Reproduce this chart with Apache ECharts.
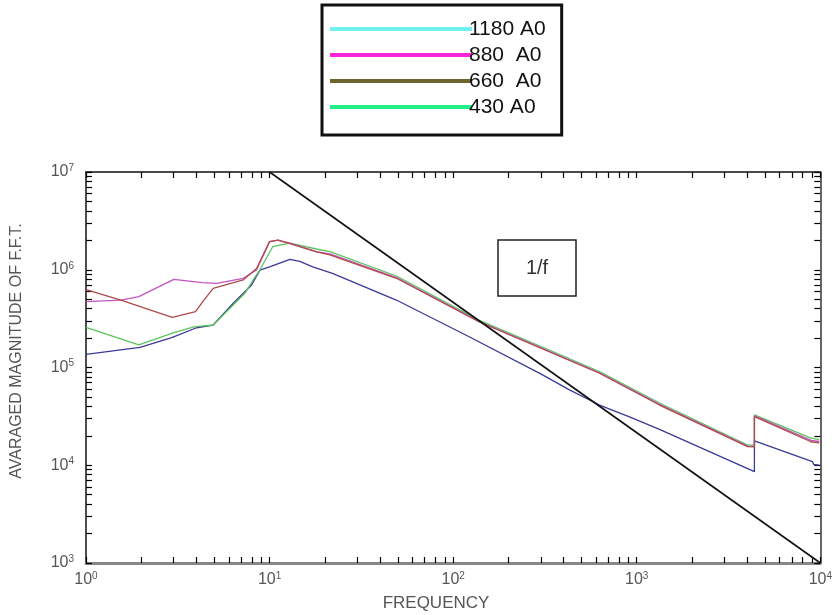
<!DOCTYPE html>
<html>
<head>
<meta charset="utf-8">
<script src="https://cdn.jsdelivr.net/npm/echarts@6/dist/echarts.min.js"></script>
<style>
html,body{margin:0;padding:0;background:#fff;}
#chart{width:835px;height:615px;}
</style>
</head>
<body>
<div id="chart"></div>
<script>
// ---- data ----
const seriesNames = ['1180 A0', '880  A0', '660  A0', '430 A0'];

const blueFreq = [1, 1.97, 2.93, 4.0, 4.93, 6.34, 7.98, 8.85, 10, 12.9, 14.6, 17.2, 22, 49, 120, 300, 430, 627, 913, 1330, 4375, 4376, 9060, 9200, 9880];
const blueMag  = [1.36e5, 1.61e5, 2.02e5, 2.55e5, 2.72e5, 4.54e5, 6.98e5, 9.9e5, 1.07e6, 1.28e6, 1.22e6, 1.07e6, 9.2e5, 4.9e5, 2.1e5, 8.6e4, 5.9e4, 4.13e4, 3.12e4, 2.33e4, 8.6e3, 1.78e4, 1.09e4, 1.02e4, 1.0e4];

const magentaFreq = [1, 1.55, 1.94, 3.01, 4.29, 5.14, 7.18, 8.49, 10, 11.1, 12.9, 18, 21.3, 49.1, 139, 627, 1330, 4020, 4375, 4376, 8900, 9880];
const magentaMag  = [4.71e5, 4.9e5, 5.3e5, 7.98e5, 7.38e5, 7.27e5, 8.18e5, 9.94e5, 1.94e6, 2.01e6, 1.87e6, 1.53e6, 1.45e6, 8.3e5, 2.95e5, 8.8e4, 4.2e4, 1.57e4, 1.56e4, 3.2e4, 1.8e4, 1.75e4];

const redFreq = [1, 1.55, 2.95, 3.95, 4.39, 4.93, 7.18, 8.49, 10, 11.1, 12.9, 18, 21.3, 49.1, 139, 627, 1330, 4020, 4375, 4376, 8900, 9880];
const redMag  = [6.27e5, 4.9e5, 3.26e5, 3.72e5, 4.9e5, 6.46e5, 7.86e5, 1.03e6, 1.94e6, 2.01e6, 1.85e6, 1.52e6, 1.42e6, 8.18e5, 2.92e5, 8.73e4, 4.13e4, 1.55e4, 1.54e4, 3.14e4, 1.74e4, 1.69e4];

const greenFreq = [1, 1.94, 3.01, 3.87, 4.93, 5.59, 7.33, 8.13, 8.85, 10.4, 12.9, 18, 21.3, 49.1, 139, 627, 1330, 4020, 4375, 4376, 8900, 9880];
const greenMag  = [2.58e5, 1.70e5, 2.27e5, 2.61e5, 2.72e5, 3.44e5, 5.74e5, 7.86e5, 9.94e5, 1.72e6, 1.87e6, 1.63e6, 1.53e6, 8.63e5, 3.03e5, 9.1e4, 4.33e4, 1.61e4, 1.61e4, 3.27e4, 1.89e4, 1.83e4];

const refFreq = [10, 10000];
const refMag  = [1e7, 1e3];

const xTickLabels = [1, 10, 100, 1000, 10000];
const yTickLabels = [1000, 10000, 100000, 1000000, 10000000];
// ---------------------------------------

function zip(a, b) { return a.map((v, i) => [v, b[i]]); }
function decadeTicks(lo, hi) {
  const out = [];
  for (let d = lo; d < hi; d *= 10) for (let k = 1; k < 10; k++) out.push(d * k);
  out.push(hi);
  return out;
}
const xTicks = decadeTicks(1, 10000);
const yTicks = decadeTicks(1000, 1e7);

function powLabel(v) {
  const e = Math.round(Math.log10(v));
  return '{b|10}{s|' + e + '}';
}
const labelRich = {
  b: { fontSize: 16, color: '#555', fontFamily: 'Liberation Sans' },
  s: { fontSize: 10, color: '#555', fontFamily: 'Liberation Sans', verticalAlign: 'top', padding: [0, 0, 8, 0] }
};

const chart = echarts.init(document.getElementById('chart'));

function baseAxis(type, pos, ticks, labels, showLabel, lineColor, lineWidth) {
  return {
    type: 'log', logBase: 10, position: pos,
    min: type === 'x' ? 1 : 1000, max: type === 'x' ? 10000 : 1e7,
    axisLine: { show: true, onZero: false, lineStyle: { color: lineColor, width: lineWidth } },
    axisTick: { show: true, inside: true, length: 6, customValues: ticks, lineStyle: { color: '#000', width: 1.2 } },
    axisLabel: { show: showLabel, customValues: labels, formatter: powLabel, rich: labelRich, margin: type === 'x' ? 8 : 12 },
    splitLine: { show: false },
    minorTick: { show: false }
  };
}

const option = {
  backgroundColor: '#fff',
  animation: false,
  grid: { left: 86, right: 14, top: 172, bottom: 52, containLabel: false },
  xAxis: [
    baseAxis('x', 'bottom', xTicks, xTickLabels, true, '#888', 3),
    baseAxis('x', 'top', xTicks, xTickLabels, false, '#111', 1.5)
  ],
  yAxis: [
    baseAxis('y', 'left', yTicks, yTickLabels, true, '#111', 1.5),
    baseAxis('y', 'right', yTicks, yTickLabels, false, '#333', 1.5)
  ],
  legend: {
    orient: 'vertical',
    left: 322, top: 5,
    icon: 'rect',
    itemWidth: 142, itemHeight: 4, itemGap: 2,
    padding: [12, 16, 16, 8],
    borderColor: '#111', borderWidth: 3,
    textStyle: { fontSize: 21, color: '#111', fontFamily: 'Liberation Sans', lineHeight: 24, padding: [0, 0, 0, -8] },
    data: [
      { name: seriesNames[0], itemStyle: { color: '#70f0f0' } },
      { name: seriesNames[1], itemStyle: { color: '#ff22dd' } },
      { name: seriesNames[2], itemStyle: { color: '#6e6432' } },
      { name: seriesNames[3], itemStyle: { color: '#22ee88' } }
    ]
  },
  graphic: [
    { type: 'rect', shape: { x: 498, y: 240, width: 78, height: 56 }, style: { fill: '#fff', stroke: '#222', lineWidth: 1.5 }, z: 100 },
    { type: 'text', x: 537, y: 268, style: { text: '1/f', fontSize: 20, fill: '#333', fontFamily: 'Liberation Sans', align: 'center', verticalAlign: 'middle' }, z: 101 },
    { type: 'text', x: 17, y: 351, rotation: Math.PI / 2, style: { text: 'AVARAGED MAGNITUDE OF F.F.T.', fontSize: 16, fill: '#555', fontFamily: 'Liberation Sans', align: 'center', verticalAlign: 'middle' } },
    { type: 'text', x: 436, y: 603, style: { text: 'FREQUENCY', fontSize: 17, fill: '#555', fontFamily: 'Liberation Sans', align: 'center', verticalAlign: 'middle' } }
  ],
  series: [
    { name: seriesNames[0], type: 'line', data: zip(blueFreq, blueMag), showSymbol: false, symbol: 'none', lineStyle: { color: '#3a3a98', width: 1.3 }, itemStyle: { color: '#3a3a98' } },
    { name: seriesNames[3], type: 'line', data: zip(greenFreq, greenMag), showSymbol: false, symbol: 'none', lineStyle: { color: '#5cc45c', width: 1.3 }, itemStyle: { color: '#5cc45c' } },
    { name: seriesNames[1], type: 'line', data: zip(magentaFreq, magentaMag), showSymbol: false, symbol: 'none', lineStyle: { color: '#c055c0', width: 1.3 }, itemStyle: { color: '#c055c0' } },
    { name: seriesNames[2], type: 'line', data: zip(redFreq, redMag), showSymbol: false, symbol: 'none', lineStyle: { color: '#b04a4a', width: 1.3 }, itemStyle: { color: '#b04a4a' } },
    { name: '1/f', type: 'line', data: zip(refFreq, refMag), showSymbol: false, symbol: 'none', lineStyle: { color: '#111', width: 1.6 }, z: 3 }
  ]
};
chart.setOption(option);
</script>
</body>
</html>
